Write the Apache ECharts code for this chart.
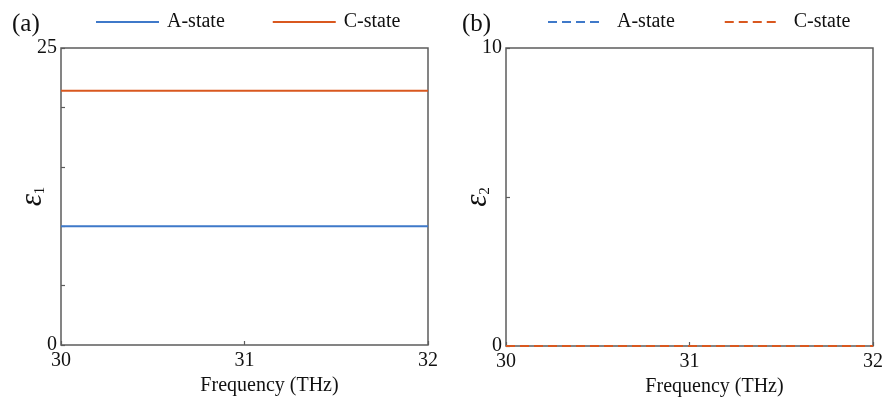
<!DOCTYPE html>
<html>
<head>
<meta charset="utf-8">
<script src="https://cdn.jsdelivr.net/npm/echarts@6/dist/echarts.min.js"></script>
<style>
  html, body { margin: 0; padding: 0; background: #fff; }
  #chart { width: 887px; height: 398px; }
</style>
</head>
<body>
<div id="chart"></div>
<script>
// Permittivity of the two phase states between 30 and 32 THz
const frequency = [30, 30.5, 31, 31.5, 32];
const eps1A = [10.0, 10.0, 10.0, 10.0, 10.0];
const eps1C = [21.4, 21.4, 21.4, 21.4, 21.4];
const eps2A = [0, 0, 0, 0, 0];
const eps2C = [0, 0, 0, 0, 0];
const xTickLabels = [30, 31, 32];
const yTickLabels1 = [0, 25];
const yTickLabels2 = [0, 10];
const stateNames = ['A-state', 'C-state'];
const panelTags = ['(a)', '(b)'];
const xTitle = 'Frequency (THz)';

const SERIF = '"Liberation Serif", "Times New Roman", serif';
const FRAME = '#5c5c5c';
const BLUE = '#3f79c9';
const ORANGE = '#d9581f';

const pairs = vals => frequency.map((f, i) => [f, vals[i]]);

const chart = echarts.init(document.getElementById('chart'), null, { renderer: 'canvas' });

function xAxisFor(gridIndex) {
  return {
    type: 'value', gridIndex, min: 30, max: 32, interval: 1,
    name: xTitle, nameLocation: 'middle', nameGap: 31, nameMoveOverlap: false,
    nameTextStyle: { fontFamily: SERIF, fontSize: 20, color: '#111', padding: [0, 0, 0, 50] },
    axisLine: { show: false },
    axisTick: { show: true, inside: true, length: 4, lineStyle: { color: FRAME, width: 1.2 } },
    axisLabel: {
      fontFamily: SERIF, fontSize: 20, color: '#111', margin: 6,
      formatter: v => xTickLabels.includes(v) ? String(v) : ''
    },
    splitLine: { show: false }
  };
}

function yAxisFor(gridIndex, max, labels, sub) {
  return {
    type: 'value', gridIndex, min: 0, max, interval: 5,
    name: '{e|ε}{s|' + sub + '}', nameLocation: 'middle', nameGap: 13, nameRotate: 90,
    nameMoveOverlap: false,
    nameTextStyle: {
      rich: {
        e: { fontFamily: SERIF, fontStyle: 'italic', fontSize: 31, lineHeight: 30, color: '#111' },
        s: { fontFamily: SERIF, fontSize: 15, lineHeight: 4, color: '#111', verticalAlign: 'bottom' }
      }
    },
    axisLine: { show: false },
    axisTick: { show: true, inside: true, length: 4, lineStyle: { color: FRAME, width: 1.2 } },
    axisLabel: {
      fontFamily: SERIF, fontSize: 20, color: '#111', margin: 4,
      formatter: v => labels.includes(v) ? String(v) : ''
    },
    splitLine: { show: false }
  };
}

function lineSeries(name, values, color, dashed, idx) {
  return {
    type: 'line', name, xAxisIndex: idx, yAxisIndex: idx,
    data: pairs(values), showSymbol: false, symbol: 'none', clip: false,
    lineStyle: { color, width: 2, type: dashed ? [9, 5] : 'solid' },
    itemStyle: { color },
    animation: false
  };
}

const legendBase = {
  formatter: n => n.split(' ')[0],
  top: 12, padding: 0, itemHeight: 14,
  itemStyle: { opacity: 0, borderWidth: 0 }
};

const option = {
  animation: false,
  backgroundColor: '#fff',
  title: [
    { text: panelTags[0], left: 12, top: 12, padding: 0,
      textStyle: { fontFamily: SERIF, fontSize: 25, fontWeight: 'normal', color: '#111' } },
    { text: panelTags[1], left: 462, top: 12, padding: 0,
      textStyle: { fontFamily: SERIF, fontSize: 25, fontWeight: 'normal', color: '#111' } }
  ],
  legend: [
    Object.assign({}, legendBase, {
      data: stateNames.map(n => n + ' ε1'),
      left: 95, itemWidth: 63, itemGap: 47,
      textStyle: { fontFamily: SERIF, fontSize: 20, color: '#111', padding: [0, 0, 0, 3] }
    }),
    Object.assign({}, legendBase, {
      data: stateNames.map(n => n + ' ε2'),
      left: 547, itemWidth: 56, itemGap: 49,
      textStyle: { fontFamily: SERIF, fontSize: 20, color: '#111', padding: [0, 0, 0, 8] }
    })
  ],
  grid: [
    { left: 61, top: 48, width: 367, height: 297, show: true, borderColor: FRAME, borderWidth: 1.5,
      backgroundColor: 'transparent', containLabel: false, outerBoundsMode: 'none' },
    { left: 506, top: 48, width: 367, height: 298, show: true, borderColor: FRAME, borderWidth: 1.5,
      backgroundColor: 'transparent', containLabel: false, outerBoundsMode: 'none' }
  ],
  xAxis: [xAxisFor(0), xAxisFor(1)],
  yAxis: [yAxisFor(0, 25, yTickLabels1, '1'), yAxisFor(1, 10, yTickLabels2, '2')],
  series: [
    lineSeries(stateNames[0] + ' ε1', eps1A, BLUE, false, 0),
    lineSeries(stateNames[1] + ' ε1', eps1C, ORANGE, false, 0),
    lineSeries(stateNames[0] + ' ε2', eps2A, BLUE, true, 1),
    lineSeries(stateNames[1] + ' ε2', eps2C, ORANGE, true, 1)
  ]
};

chart.setOption(option);
</script>
</body>
</html>
